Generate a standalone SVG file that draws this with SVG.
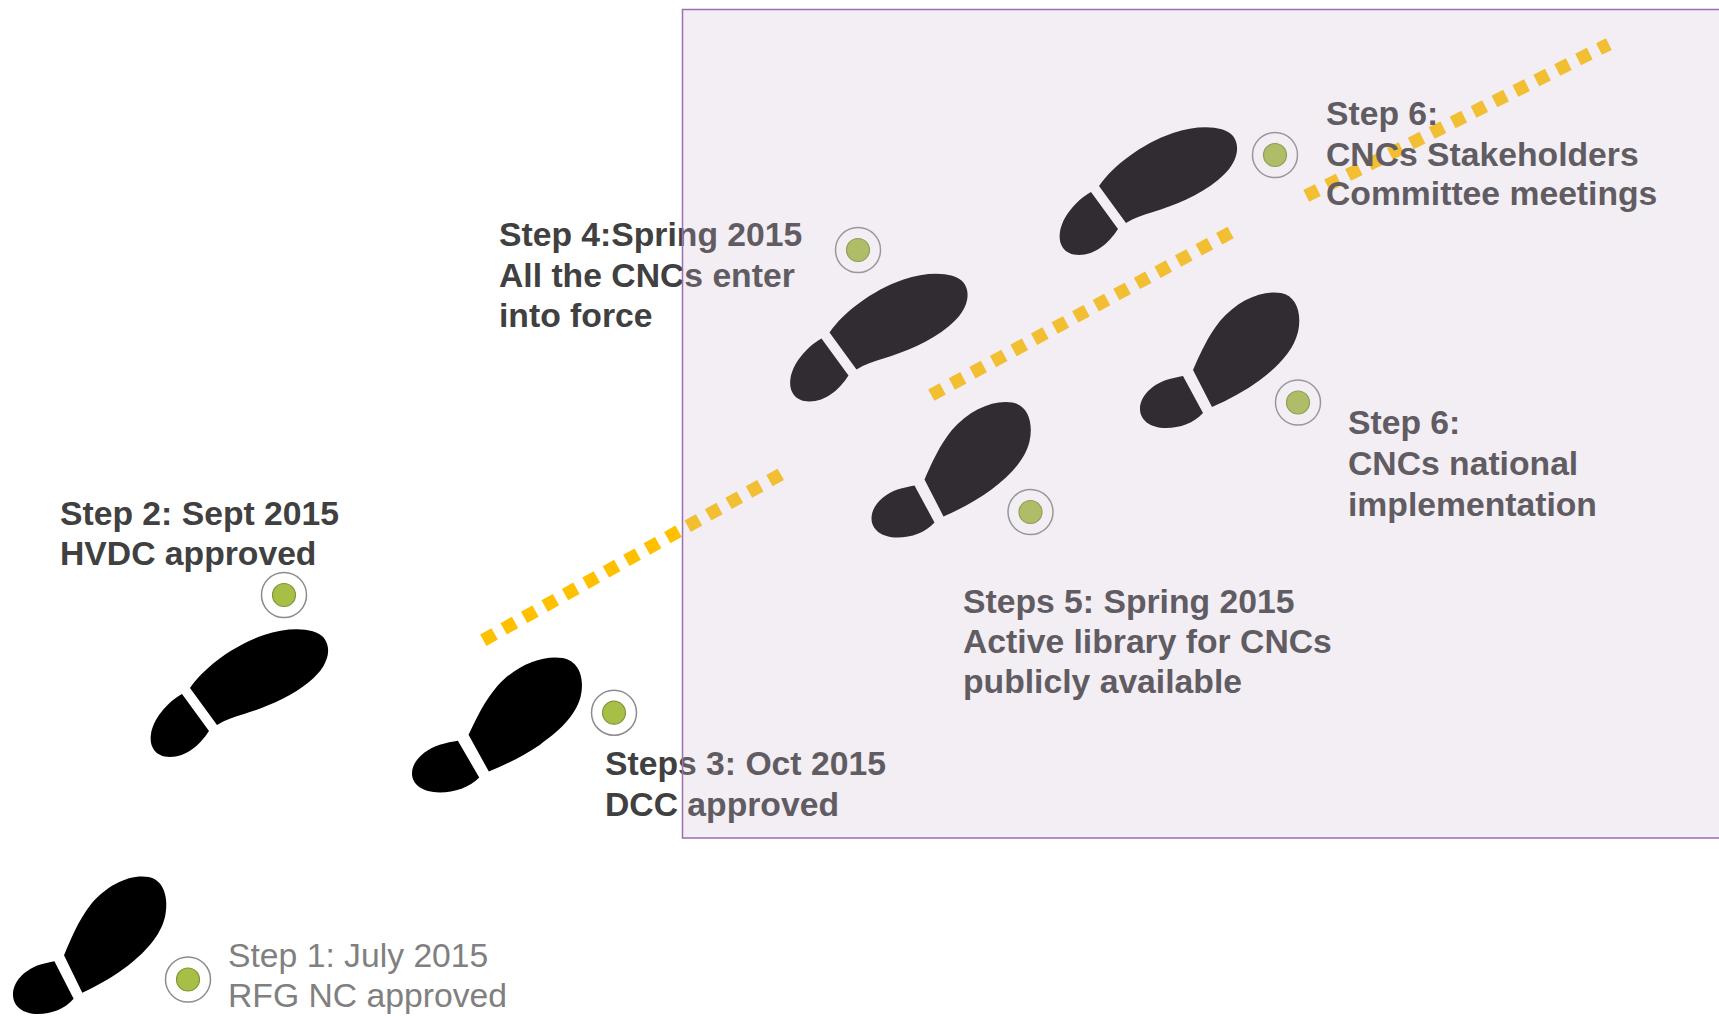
<svg xmlns="http://www.w3.org/2000/svg" xmlns:xlink="http://www.w3.org/1999/xlink" width="1719" height="1016" viewBox="0 0 1719 1016">
  <style>
    .lbl { font-family: "Liberation Sans", Arial, sans-serif; font-size: 33.7px; }
    .bold { font-weight: bold; fill: #404040; }
    .plain { fill: #808080; }
    .ring { fill: #ffffff; stroke: #8c8c8c; stroke-width: 1.5; }
    .dot { fill: #a8bf47; stroke: #809637; stroke-width: 1.2; }
    .trail { fill: none; stroke: #ffc000; stroke-width: 13; stroke-dasharray: 13 10.4; }
    .sole { fill: #000000; }
  </style>
  <defs>
    <!-- left shoe print: forefoot + separate heel -->
    <g id="left-sole" class="sole">
      <path d="M190,688 C204,668 232,646 264,635 C288,627 314,627 324,638 C333,650 327,668 309,682 C291,697 264,708 244,714 C234,717 225,720 217,725 Z"/>
      <path d="M182,694 L209,731 C200,745 186,757 170,757 C155,757 149,746 151,734 C153,720 166,703 182,694 Z"/>
    </g>
    <!-- right shoe print -->
    <g id="right-sole" class="sole">
      <path d="M1193,370 C1201,352 1208,336 1220,321 C1238,300 1262,290 1281,293 C1297,296 1302,314 1298,332 C1293,352 1277,367 1260,380 C1245,391 1228,400 1212,407 Z"/>
      <path d="M1183,376 L1203,413 C1194,423 1180,428 1166,428 C1150,428 1140,420 1140,409 C1140,396 1152,385 1166,380 C1172,378 1178,377 1183,376 Z"/>
    </g>
    <!-- milestone target marker -->
    <g id="marker">
      <circle r="22.5" class="ring"/>
      <circle r="11.5" class="dot"/>
    </g>
  </defs>

  <rect width="1719" height="1016" fill="#ffffff"/>

  <!-- dotted trail connectors -->
  <g id="connectors">
    <line class="trail" x1="483.3" y1="640.2" x2="781.7" y2="473.8"/>
    <line class="trail" x1="931.3" y1="395.1" x2="1231.7" y2="231.9"/>
    <line class="trail" x1="1306.2" y1="195.9" x2="1608.8" y2="44.1"/>
  </g>

  <g id="step1">
    <use xlink:href="#right-sole" transform="translate(13,877) scale(0.9625,1.015) translate(-1140,-293)"/>
    <use xlink:href="#marker" x="188" y="979.5"/>
    <text class="lbl plain" x="228" y="967">Step 1: July 2015</text>
    <text class="lbl plain" x="228" y="1007">RFG NC approved</text>
  </g>

  <g id="step2">
    <use xlink:href="#left-sole"/>
    <use xlink:href="#marker" x="284" y="595"/>
    <text class="lbl bold" x="60" y="525">Step 2: Sept 2015</text>
    <text class="lbl bold" x="60" y="565">HVDC approved</text>
  </g>

  <g id="step3">
    <use xlink:href="#right-sole" transform="translate(412,658) scale(1.067,0.996) translate(-1140,-293)"/>
    <use xlink:href="#marker" x="614" y="712.7"/>
    <text class="lbl bold" x="605" y="775">Steps 3: Oct 2015</text>
    <text class="lbl bold" x="605" y="816">DCC approved</text>
  </g>

  <g id="step4">
    <use xlink:href="#left-sole" transform="translate(639.5,-355.5)"/>
    <use xlink:href="#marker" x="858" y="250"/>
    <text class="lbl bold" x="499" y="246">Step 4:Spring 2015</text>
    <text class="lbl bold" x="499" y="287">All the CNCs enter</text>
    <text class="lbl bold" x="499" y="327">into force</text>
  </g>

  <g id="step5">
    <use xlink:href="#right-sole" transform="translate(-268.5,109.5)"/>
    <use xlink:href="#marker" x="1030.5" y="512"/>
    <text class="lbl bold" x="963" y="612.5">Steps 5: Spring 2015</text>
    <text class="lbl bold" x="963" y="653">Active library for CNCs</text>
    <text class="lbl bold" x="963" y="693">publicly available</text>
  </g>

  <g id="step6-committee">
    <use xlink:href="#left-sole" transform="translate(909,-502)"/>
    <use xlink:href="#marker" x="1275" y="155"/>
    <text class="lbl bold" x="1326" y="125">Step 6:</text>
    <text class="lbl bold" x="1326" y="165.5">CNCs Stakeholders</text>
    <text class="lbl bold" x="1326" y="205">Committee meetings</text>
  </g>

  <g id="step6-national">
    <use xlink:href="#right-sole"/>
    <use xlink:href="#marker" x="1298" y="402.5"/>
    <text class="lbl bold" x="1348" y="434">Step 6:</text>
    <text class="lbl bold" x="1348" y="475">CNCs national</text>
    <text class="lbl bold" x="1348" y="515.5">implementation</text>
  </g>

  <!-- translucent panel over the later steps -->
  <g id="upcoming-panel">
    <rect x="682.5" y="9.5" width="1045" height="828.5" fill="#c8b7d0" fill-opacity="0.24" stroke="#9b6db1" stroke-width="1.5"/>
  </g>
</svg>
